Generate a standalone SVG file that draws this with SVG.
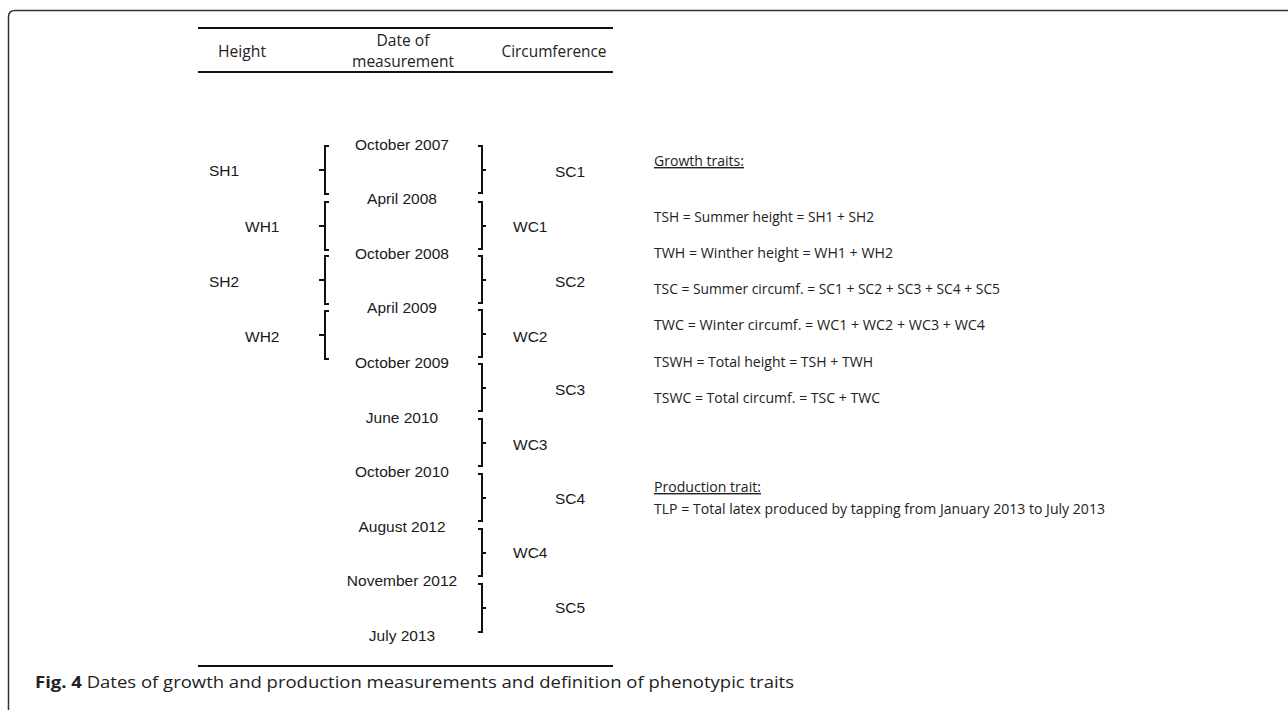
<svg xmlns="http://www.w3.org/2000/svg" width="1288" height="710" viewBox="0 0 1288 710">
<style>
.frame{fill:none;stroke:#333;stroke-width:1.5}
.rule{stroke:#111;stroke-width:2}
.hdr{font-family:"Open Sans","Noto Sans",sans-serif;font-size:15.5px;fill:#222;text-anchor:middle}
.date{font-family:"Liberation Sans",Arial,sans-serif;font-size:15.5px;fill:#1a1a1a;text-anchor:middle}
.lab{font-family:"Liberation Sans",Arial,sans-serif;font-size:15.5px;fill:#1a1a1a}
.br{fill:none;stroke:#111;stroke-width:2}
.def{font-family:"Open Sans","Noto Sans",sans-serif;font-size:14px;fill:#222}
.cap{font-family:"Open Sans","Noto Sans",sans-serif;font-size:16px;fill:#222}
</style>
<rect width="1288" height="710" fill="#fff"/>
<path class="frame" d="M8.5 720 V17 Q8.5 10.5 15 10.5 H1300"/>
<g id="table-rules">
<line class="rule" x1="198" y1="28" x2="613" y2="28"/>
<line class="rule" x1="198" y1="72" x2="613" y2="72"/>
<line class="rule" x1="198" y1="666" x2="613" y2="666"/>
</g>
<g id="header">
<text class="hdr" x="242" y="57" textLength="48" lengthAdjust="spacingAndGlyphs">Height</text>
<text class="hdr" x="403" y="46" textLength="53" lengthAdjust="spacingAndGlyphs">Date of</text>
<text class="hdr" x="403" y="67" textLength="102" lengthAdjust="spacingAndGlyphs">measurement</text>
<text class="hdr" x="554" y="57" textLength="105" lengthAdjust="spacingAndGlyphs">Circumference</text>
</g>
<g id="dates">
<text class="date" x="402" y="150">October 2007</text>
<text class="date" x="402" y="204">April 2008</text>
<text class="date" x="402" y="259">October 2008</text>
<text class="date" x="402" y="313">April 2009</text>
<text class="date" x="402" y="368">October 2009</text>
<text class="date" x="402" y="423">June 2010</text>
<text class="date" x="402" y="477">October 2010</text>
<text class="date" x="402" y="532">August 2012</text>
<text class="date" x="402" y="586">November 2012</text>
<text class="date" x="402" y="641">July 2013</text>
</g>
<g id="connectors">
<path class="br" d="M329 146 H325 V194 H329 M325 170 H319"/>
<path class="br" d="M329 202 H325 V250 H329 M325 226 H319"/>
<path class="br" d="M329 256 H325 V304 H329 M325 280 H319"/>
<path class="br" d="M329 311 H325 V359 H329 M325 335 H319"/>
<path class="br" d="M478 146 H482 V193 H478 M482 170 H486"/>
<path class="br" d="M478 202 H482 V249 H478 M482 226 H486"/>
<path class="br" d="M478 256 H482 V303 H478 M482 280 H486"/>
<path class="br" d="M478 310 H482 V357 H478 M482 334 H486"/>
<path class="br" d="M478 364 H482 V411 H478 M482 388 H486"/>
<path class="br" d="M478 419 H482 V466 H478 M482 443 H486"/>
<path class="br" d="M478 474 H482 V521 H478 M482 498 H486"/>
<path class="br" d="M478 529 H482 V576 H478 M482 553 H486"/>
<path class="br" d="M478 584 H482 V632 H478 M482 608 H486"/>
</g>
<g id="height-labels">
<text class="lab" x="209" y="176">SH1</text>
<text class="lab" x="245" y="232">WH1</text>
<text class="lab" x="209" y="287">SH2</text>
<text class="lab" x="245" y="342">WH2</text>
</g>
<g id="circ-labels">
<text class="lab" x="555" y="177">SC1</text>
<text class="lab" x="513" y="232">WC1</text>
<text class="lab" x="555" y="287">SC2</text>
<text class="lab" x="513" y="342">WC2</text>
<text class="lab" x="555" y="395">SC3</text>
<text class="lab" x="513" y="450">WC3</text>
<text class="lab" x="555" y="504">SC4</text>
<text class="lab" x="513" y="558">WC4</text>
<text class="lab" x="555" y="613">SC5</text>
</g>
<g id="definitions">
<text class="def" x="654" y="166" text-decoration="underline" textLength="90" lengthAdjust="spacingAndGlyphs">Growth traits:</text>
<text class="def" x="654" y="222" textLength="220" lengthAdjust="spacingAndGlyphs">TSH = Summer height = SH1 + SH2</text>
<text class="def" x="654" y="258" textLength="239" lengthAdjust="spacingAndGlyphs">TWH = Winther height = WH1 + WH2</text>
<text class="def" x="654" y="294" textLength="346" lengthAdjust="spacingAndGlyphs">TSC = Summer circumf. = SC1 + SC2 + SC3 + SC4 + SC5</text>
<text class="def" x="654" y="330" textLength="331" lengthAdjust="spacingAndGlyphs">TWC = Winter circumf. = WC1 + WC2 + WC3 + WC4</text>
<text class="def" x="654" y="367" textLength="219" lengthAdjust="spacingAndGlyphs">TSWH = Total height = TSH + TWH</text>
<text class="def" x="654" y="403" textLength="226" lengthAdjust="spacingAndGlyphs">TSWC = Total circumf. = TSC + TWC</text>
<text class="def" x="654" y="492" text-decoration="underline" textLength="107" lengthAdjust="spacingAndGlyphs">Production trait:</text>
<text class="def" x="654" y="514" textLength="451" lengthAdjust="spacingAndGlyphs">TLP = Total latex produced by tapping from January 2013 to July 2013</text>
</g>
<g id="caption">
<text class="cap" x="35" y="688" textLength="759" lengthAdjust="spacingAndGlyphs"><tspan font-weight="bold">Fig. 4</tspan> Dates of growth and production measurements and definition of phenotypic traits</text>
</g>
</svg>
